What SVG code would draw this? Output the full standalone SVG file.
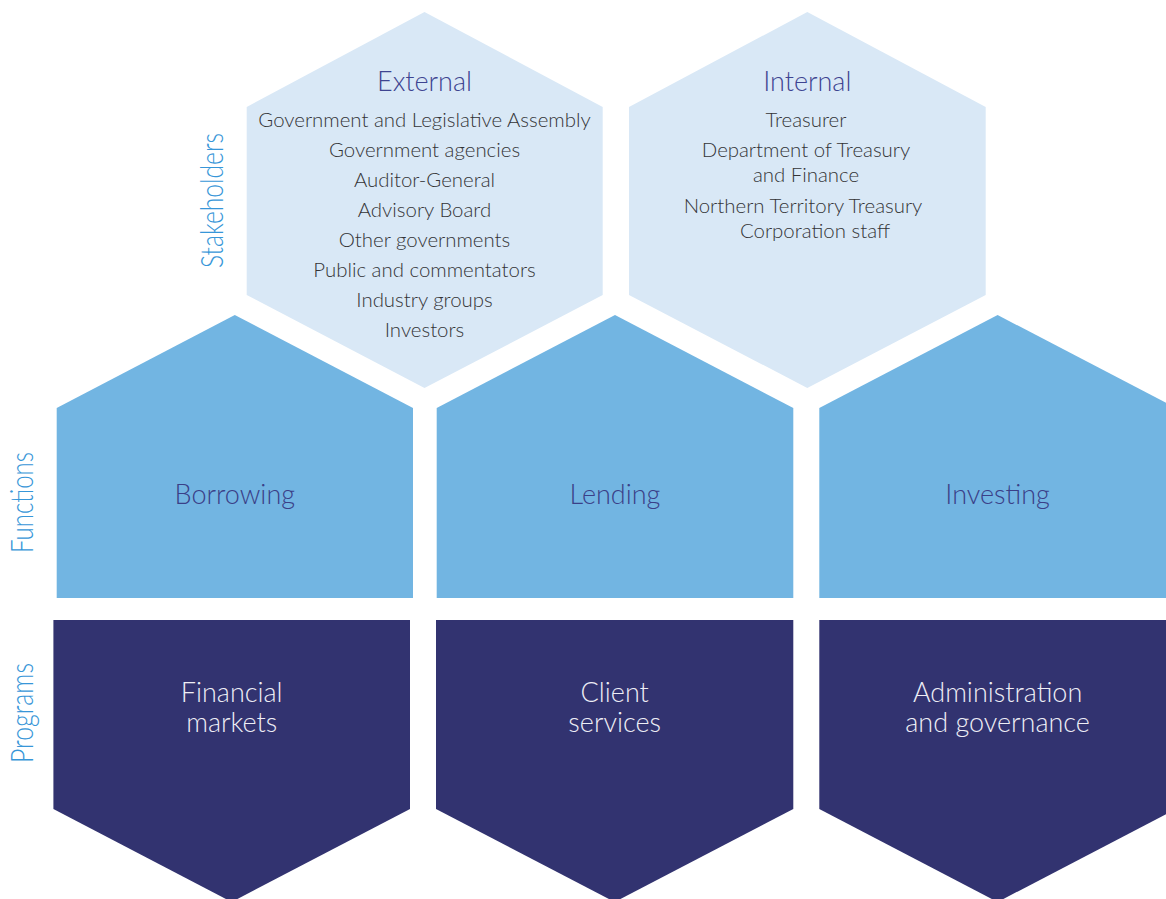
<svg xmlns="http://www.w3.org/2000/svg" width="1166" height="899" viewBox="0 0 1166 899">
  <style>
    .stake { fill: #D9E8F6; }
    .func { fill: #72B5E2; }
    .prog { fill: #323370; }
    .title { font-family: Lato, "Open Sans", "Liberation Sans", sans-serif; font-weight: 300; font-size: 27px; fill: #3E4491; text-anchor: middle; }
    .item { font-family: Lato, "Open Sans", "Liberation Sans", sans-serif; font-weight: 300; font-size: 20.4px; fill: #343436; text-anchor: middle; }
    .ftext { font-family: Lato, "Open Sans", "Liberation Sans", sans-serif; font-weight: 300; font-size: 27px; fill: #3A4088; text-anchor: middle; }
    .ptext { font-family: Lato, "Open Sans", "Liberation Sans", sans-serif; font-weight: 300; font-size: 27px; fill: #EEEEF6; text-anchor: middle; }
    .side { font-family: Lato, "Open Sans", "Liberation Sans", sans-serif; font-weight: 300; font-size: 31px; fill: #3796D8; text-anchor: middle; }
  </style>
  <rect width="1166" height="899" fill="#FFFFFF"/>

  <!-- Row labels -->
  <g id="row-labels">
    <text class="side" transform="translate(223,200.5) rotate(-90)" textLength="135" lengthAdjust="spacingAndGlyphs">Stakeholders</text>
    <text class="side" transform="translate(33,502.5) rotate(-90)" textLength="101" lengthAdjust="spacingAndGlyphs">Functions</text>
    <text class="side" transform="translate(33,713) rotate(-90)" textLength="100" lengthAdjust="spacingAndGlyphs">Programs</text>
  </g>

  <!-- Stakeholders -->
  <g id="external">
    <polygon class="stake" points="424.5,12 602.7,107 602.7,295 424.5,388 246.7,295 246.7,107"/>
    <text class="title" x="424.5" y="91">External</text>
    <text class="item" x="424.5" y="127">Government and Legislative Assembly</text>
    <text class="item" x="424.5" y="157">Government agencies</text>
    <text class="item" x="424.5" y="187">Auditor-General</text>
    <text class="item" x="424.5" y="217">Advisory Board</text>
    <text class="item" x="424.5" y="247">Other governments</text>
    <text class="item" x="424.5" y="277">Public and commentators</text>
    <text class="item" x="424.5" y="307">Industry groups</text>
    <text class="item" x="424.5" y="337">Investors</text>
  </g>
  <g id="internal">
    <polygon class="stake" points="807.3,12 985.7,107 985.7,295 807.3,388 629,295 629,107"/>
    <text class="title" x="807.3" y="91">Internal</text>
    <text class="item" x="806" y="127">Treasurer</text>
    <text class="item" x="806" y="157">Department of Treasury</text>
    <text class="item" x="806" y="182">and Finance</text>
    <text class="item" x="803" y="213">Northern Territory Treasury</text>
    <text class="item" x="815" y="238">Corporation staff</text>
  </g>

  <!-- Functions -->
  <g id="borrowing">
    <polygon class="func" points="234.8,315 413,408 413,598 56.7,598 56.7,408"/>
    <text class="ftext" x="234.8" y="504">Borrowing</text>
  </g>
  <g id="lending">
    <polygon class="func" points="615,315 793.3,408 793.3,598 436.7,598 436.7,408"/>
    <text class="ftext" x="615" y="504">Lending</text>
  </g>
  <g id="investing">
    <polygon class="func" points="997.6,315 1176,408 1176,598 819.3,598 819.3,408"/>
    <text class="ftext" x="997.6" y="504">Investing</text>
  </g>

  <!-- Programs -->
  <g id="financial-markets">
    <polygon class="prog" points="53.4,620 410,620 410,809 231.7,902 53.4,809"/>
    <text class="ptext" x="231.7" y="702">Financial</text>
    <text class="ptext" x="231.7" y="732">markets</text>
  </g>
  <g id="client-services">
    <polygon class="prog" points="436,620 793.3,620 793.3,809 614.7,902 436,809"/>
    <text class="ptext" x="614.7" y="702">Client</text>
    <text class="ptext" x="614.7" y="732">services</text>
  </g>
  <g id="administration-governance">
    <polygon class="prog" points="819.3,620 1176,620 1176,809 997.6,902 819.3,809"/>
    <text class="ptext" x="997.6" y="702">Administration</text>
    <text class="ptext" x="997.6" y="732">and governance</text>
  </g>

  <!-- No connectors in this layout -->
  <g id="connectors"/>
</svg>
